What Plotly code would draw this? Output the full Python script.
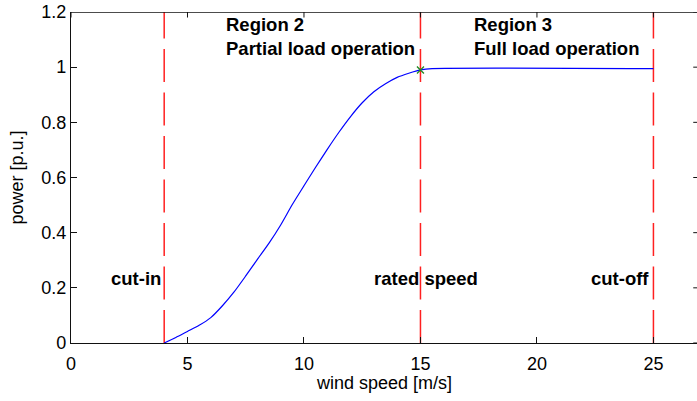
import plotly.graph_objects as go

# ---- data ----
wind_speed = [4.0, 4.5, 5.0, 5.5, 6.0, 6.5, 7.0, 7.5, 8.0, 8.5, 9.0, 9.5, 10.0,
              10.5, 11.0, 11.5, 12.0, 12.5, 13.0, 13.5, 14.0, 14.5, 15.0, 15.5, 25.0]
power_pu = [0.0, 0.02, 0.042, 0.064, 0.092, 0.135, 0.185, 0.243, 0.303, 0.362, 0.428, 0.502, 0.570,
            0.637, 0.702, 0.764, 0.821, 0.871, 0.911, 0.940, 0.963, 0.978, 0.99, 0.995, 0.995]
cut_in_speed = 4
rated_speed = 15
rated_power = 0.99
cut_off_speed = 25
x_ticks = [0, 5, 10, 15, 20, 25]
y_ticks = [0, 0.2, 0.4, 0.6, 0.8, 1.0, 1.2]
y_tick_labels = ["0", "0.2", "0.4", "0.6", "0.8", "1", "1.2"]
x_max = 26.87
y_max = 1.2

FONT = "Arial, Liberation Sans, sans-serif"
AX = "#111111"

fig = go.Figure()

for xv in [cut_in_speed, rated_speed, cut_off_speed]:
    fig.add_trace(go.Scatter(x=[xv, xv], y=[0, y_max], mode="lines",
                             line=dict(color="#ff2020", width=1.5, dash="33px,10.5px"),
                             showlegend=False, hoverinfo="skip"))

fig.add_trace(go.Scatter(x=wind_speed, y=power_pu, mode="lines",
                         line=dict(color="#0000ff", width=1.2, shape="spline", smoothing=0.6),
                         showlegend=False))

fig.add_trace(go.Scatter(x=[rated_speed], y=[rated_power], mode="markers",
                         marker=dict(symbol="x-thin", size=7,
                                     line=dict(color="#1f8a1f", width=1.3)),
                         showlegend=False))

# top frame of the axes box (as an unclipped line along the axis maximum)
fig.add_trace(go.Scatter(x=[0, x_max], y=[y_max, y_max], mode="lines", cliponaxis=False,
                         line=dict(color=AX, width=1.4), showlegend=False, hoverinfo="skip"))

ann_font = dict(family=FONT, size=18.5, color="black")
anns = [
    dict(x=6.55, y=1.11, text="<b>Region 2</b><br><b>Partial load operation</b>", xanchor="left", align="left"),
    dict(x=17.2, y=1.11, text="<b>Region 3</b><br><b>Full load operation</b>", xanchor="left", align="left"),
    dict(x=3.95, y=0.235, text="<b>cut-in</b>", xanchor="right", align="right"),
    dict(x=12.9, y=0.235, text="<b>rated speed</b>", xanchor="left", align="left"),
    dict(x=24.9, y=0.235, text="<b>cut-off</b>", xanchor="right", align="right"),
]
for a in anns:
    fig.add_annotation(xref="x", yref="y", yanchor="middle", showarrow=False,
                       font=ann_font, **a)

# axis titles
fig.add_annotation(xref="paper", yref="paper", x=0.5, y=-0.121, text="wind speed [m/s]",
                   showarrow=False, xanchor="center", yanchor="middle",
                   font=dict(family=FONT, size=18, color="black"))
fig.add_annotation(xref="paper", yref="paper", x=-0.0863, y=0.5, text="power [p.u.]",
                   showarrow=False, xanchor="center", yanchor="middle", textangle=-90,
                   font=dict(family=FONT, size=18, color="black"))

# top ticks and right-edge tick stubs (reference is cropped before its right border)
for yv in y_ticks:
    fig.add_shape(type="line", xref="paper", yref="y", x0=0.994, x1=1, y0=yv, y1=yv,
                  line=dict(color=AX, width=1), layer="above")
for xv in x_ticks:
    fig.add_shape(type="line", xref="x", yref="y", x0=xv, x1=xv, y0=1.18, y1=1.2,
                  line=dict(color=AX, width=1), layer="above")

fig.update_layout(
    width=697, height=401,
    margin=dict(l=71, r=0, t=12, b=58, autoexpand=False),
    paper_bgcolor="white", plot_bgcolor="white",
    font=dict(family=FONT, size=18, color="black"),
    xaxis=dict(range=[0, x_max], tickvals=x_ticks, ticks="inside", ticklen=6,
               tickcolor=AX, showline=True, linecolor=AX, linewidth=1.2,
               showgrid=False, zeroline=False, automargin=False,
               tickfont=dict(size=18), ticklabelstandoff=4),
    yaxis=dict(range=[0, y_max], tickvals=y_ticks, ticktext=y_tick_labels,
               ticks="inside", ticklen=6, tickcolor=AX, showline=True,
               linecolor=AX, linewidth=1.2, showgrid=False, zeroline=False,
               automargin=False, tickfont=dict(size=18)),
)

# remove the browser's default 8px page margin so the figure fills the window exactly
fig.write_html("out.html", config={"displayModeBar": False},
               post_script="document.body.style.margin='0';")
